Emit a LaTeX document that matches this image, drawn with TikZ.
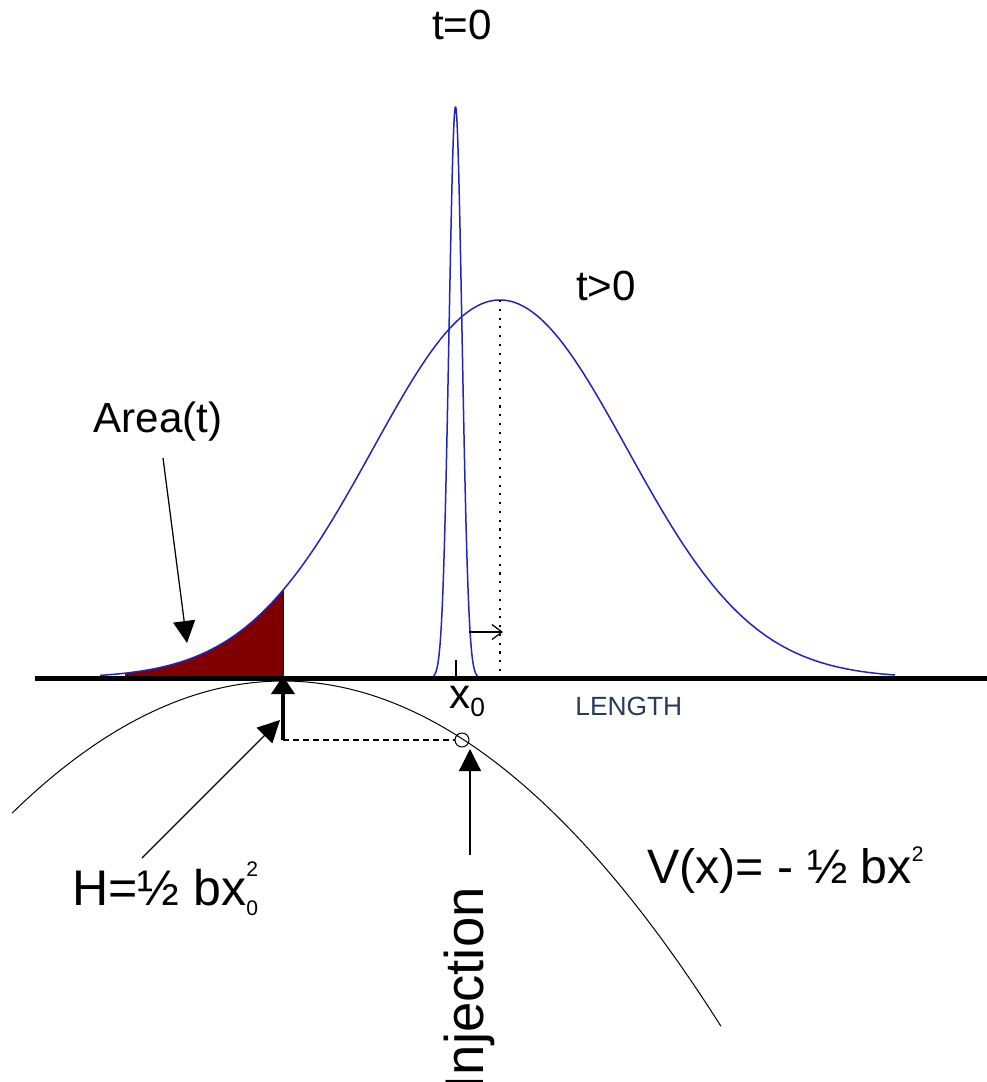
\documentclass[tikz,border=0pt]{standalone}
\usepackage{fontspec}
\setmainfont{Liberation Sans}
\usetikzlibrary{arrows.meta}
\definecolor{curveblue}{RGB}{35,35,190}
\definecolor{areared}{RGB}{128,0,0}
\definecolor{lengthblue}{RGB}{40,60,95}
\newcommand{\stackscript}[2]{\rlap{\raisebox{16pt}{\fontsize{12}{12}\selectfont #1}}\raisebox{-5.7pt}{\fontsize{12}{12}\selectfont #2}}

\begin{document}
\begin{tikzpicture}[x=0.2mm, y=-0.2mm,
  curve/.style={curveblue, line width=0.3mm},
  axisline/.style={line width=1mm},
  pointer/.style={-{Triangle[length=4.4mm, width=4.4mm]}, line width=0.25mm},
  lbl/.style={inner sep=0pt, font=\fontsize{24}{28}\selectfont},
  biglbl/.style={inner sep=0pt, font=\fontsize{28.5}{32}\selectfont}
]
\useasboundingbox (0,0) rectangle (987,1082);

\fill[areared] (125,678) -- plot[domain=125:283, samples=60] (\x,{678-378*exp(-((\x-500)/127)^2/2)}) -- (283,678) -- cycle;
\draw[areared!70!black, line width=0.4mm] (283,678) -- (283,590);
\draw[curve] plot[domain=100:895, samples=200] (\x,{678-378*exp(-((\x-500)/127)^2/2)});
\draw[curve] plot[domain=430:481, samples=150] (\x,{678-571*exp(-((\x-455.5)/6.5)^2/2)});
\draw[dash pattern=on 1.2pt off 3.8pt, line width=0.3mm] (500,300) -- (500,678);
\draw[line width=0.2mm] plot[domain=12:721, samples=150] (\x,{681+((\x-283)/23.57)^2});
\draw[axisline] (35,678) -- (987,678);
\draw[line width=0.3mm] (456,660) -- (456,678);

\node[lbl, anchor=base] (tzero) at (462,39) {t=0};
\node[lbl, anchor=base] (tlater) at (606,300) {t>0};
\node[lbl, anchor=base] (arealbl) at (158,432) {Area(t)};
\node[lbl, anchor=base west] (xzero) at (449,708) {x\raisebox{-5pt}{\fontsize{15}{16}\selectfont 0}};
\node[anchor=base west, inner sep=0pt, text=lengthblue, font=\fontsize{15}{18}\selectfont] (lengthlbl) at (575,715) {LENGTH};
\node[biglbl, anchor=base west] (hlbl) at (72,905) {H=½ bx\stackscript{2}{0}};
\node[biglbl, anchor=base west, font=\fontsize{27.5}{31}\selectfont] (vlbl) at (647,883) {V(x)= - ½ bx\raisebox{12pt}{\fontsize{12}{12}\selectfont 2}};
\node[biglbl, rotate=90, anchor=base east, font=\fontsize{31}{34}\selectfont] (injlbl) at (483,887) {Injection};
\node[draw, circle, minimum size=2.8mm, inner sep=0pt, line width=0.2mm] (inj) at (462,740) {};

\coordinate (peakside) at (469,632);
\coordinate (peakshift) at (503,632);
\coordinate (areatail) at (163,458);
\coordinate (areatip) at (187,643);
\coordinate (hfoot) at (283,740);
\coordinate (htop) at (283,676);
\coordinate (htail) at (142,858);
\coordinate (htip) at (280,720);
\coordinate (injtail) at (470,855);
\coordinate (injtip) at (470,749);

\draw[-{Straight Barb[length=2mm, width=3mm]}, line width=0.25mm] (peakside) -- (peakshift);
\draw[pointer] (areatail) -- (areatip);
\draw[pointer] (htail) -- (htip);
\draw[pointer] (injtail) -- (injtip);
\draw[-{Triangle[length=3.6mm, width=4.6mm]}, line width=0.8mm] (hfoot) -- (htop);
\draw[dash pattern=on 3.4pt off 2.3pt, line width=0.25mm] (hfoot) -- (inj);
\end{tikzpicture}
\end{document}
